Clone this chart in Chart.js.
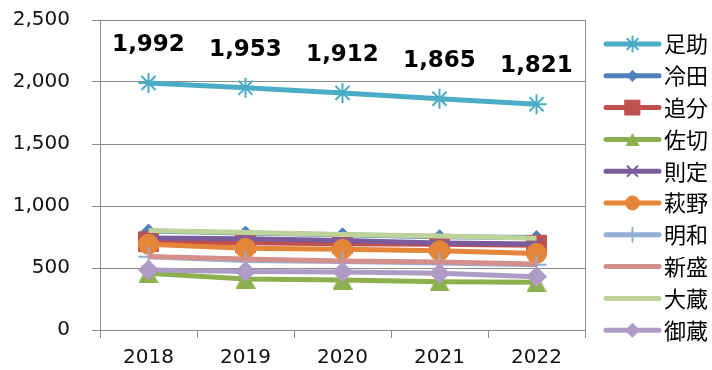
<!DOCTYPE html>
<html><head><meta charset="utf-8">
<script src="https://cdn.jsdelivr.net/npm/chart.js@4.4.1/dist/chart.umd.min.js"></script>
<style>html,body{margin:0;padding:0;background:#fff}</style>
</head><body>
<canvas id="c" width="712" height="370"></canvas>
<script>
// Population by district, 2018–2022
const years = ['2018', '2019', '2020', '2021', '2022'];
const asuke    = [1992, 1953, 1912, 1865, 1821]; // 足助
const hieda    = [798, 782, 768, 752, 745];      // 冷田
const oiwake   = [712, 704, 696, 692, 684];      // 追分
const sagiri   = [457, 411, 403, 390, 385];      // 佐切
const norisada = [742, 735, 722, 702, 693];      // 則定
const hagino   = [691, 659, 651, 640, 617];      // 萩野
const meiwa    = [591, 560, 552, 540, 526];      // 明和
const shinmori = [592, 572, 556, 548, 532];      // 新盛
const ookura   = [802, 786, 770, 758, 739];      // 大蔵
const mikura   = [484, 472, 468, 457, 430];      // 御蔵
const yTicks = [0, 500, 1000, 1500, 2000, 2500];

// upright triangle sprite, centred on its bounding box
function triangleSprite(w, h, color) {
  const c = document.createElement('canvas');
  c.width = w; c.height = h;
  const g = c.getContext('2d');
  g.fillStyle = color;
  g.beginPath();
  g.moveTo(w / 2, 0); g.lineTo(w, h); g.lineTo(0, h); g.closePath();
  g.fill();
  return c;
}

const series = [
  { name: '足助', data: asuke,    color: '#4BACC6', style: 'star',     r: 10, lr: 7.5, bw: 2 },
  { name: '冷田', data: hieda,    color: '#4F81BD', style: 'rectRot',  r: 7,  lr: 5.5, bw: 1 },
  { name: '追分', data: oiwake,   color: '#C0504D', style: 'rect',     r: 14, lr: 10.5, bw: 1 },
  { name: '佐切', data: sagiri,   color: '#8DB04E', style: triangleSprite(20, 19, '#8DB04E'), r: 10, lr: 7,
    legendStyle: triangleSprite(14, 13, '#8DB04E'), bw: 1 },
  { name: '則定', data: norisada, color: '#7A5C9C', style: 'crossRot', r: 8,  lr: 7, bw: 2 },
  { name: '萩野', data: hagino,   color: '#E58538', style: 'circle',   r: 10, lr: 7, bw: 1 },
  { name: '明和', data: meiwa,    color: '#93AFD6', style: 'cross',    r: 10, lr: 7, bw: 2 },
  { name: '新盛', data: shinmori, color: '#D48F8D', style: false,      r: 0,  lr: 0, bw: 1 },
  { name: '大蔵', data: ookura,   color: '#BDD39A', style: false,      r: 0,  lr: 0, bw: 1 },
  { name: '御蔵', data: mikura,   color: '#AE9CC6', style: 'rectRot',  r: 10, lr: 7, bw: 1 }
];

const FONT = '"DejaVu Sans", Verdana, sans-serif';
const CJK = '"Noto Sans CJK JP", "Noto Sans", sans-serif';

function drawMarker(ctx, style, r, color, bw, x, y) {
  if (!style) return;
  if (window.Chart && Chart.helpers && Chart.helpers.drawPoint) {
    ctx.save();
    ctx.fillStyle = color; ctx.strokeStyle = color; ctx.lineWidth = bw;
    Chart.helpers.drawPoint(ctx, { pointStyle: style, radius: r, borderWidth: bw, rotation: 0 }, x, y);
    ctx.restore();
  }
}

// value labels above the 足助 line
const valueLabels = {
  id: 'valueLabels',
  afterDatasetsDraw(chart) {
    const ctx = chart.ctx;
    const meta = chart.getDatasetMeta(0);
    ctx.save();
    ctx.font = 'bold 23px ' + FONT;
    ctx.fillStyle = '#000';
    ctx.textAlign = 'center';
    ctx.textBaseline = 'middle';
    meta.data.forEach((pt, i) => {
      ctx.fillText(asuke[i].toLocaleString('en-US'), pt.x, pt.y - 38);
    });
    ctx.restore();
  }
};

// plot area right edge and the legend on the right
const frameAndLegend = {
  id: 'frameAndLegend',
  beforeDatasetsDraw(chart) {
    const { ctx, chartArea: a } = chart;
    ctx.save();
    ctx.strokeStyle = '#8c8c8c';
    ctx.lineWidth = 1;
    ctx.beginPath();
    ctx.moveTo(Math.round(a.right) + 0.5, a.top);
    ctx.lineTo(Math.round(a.right) + 0.5, a.bottom);
    ctx.stroke();
    ctx.restore();
  },
  afterDraw(chart) {
    const ctx = chart.ctx;
    const x0 = 606, x1 = 659, tx = 664, y0 = 44, dy = 31.8;
    ctx.save();
    series.forEach((s, i) => {
      const y = y0 + i * dy;
      ctx.strokeStyle = s.color;
      ctx.lineWidth = 5;
      ctx.lineCap = 'round';
      ctx.beginPath(); ctx.moveTo(x0, y); ctx.lineTo(x1, y); ctx.stroke();
      drawMarker(ctx, s.legendStyle || s.style, s.lr, s.color, s.bw, (x0 + x1) / 2, y);
      ctx.fillStyle = '#000';
      ctx.font = '22px ' + CJK;
      ctx.textAlign = 'left';
      ctx.textBaseline = 'middle';
      ctx.fillText(s.name, tx, y);
    });
    ctx.restore();
  }
};

new Chart(document.getElementById('c'), {
  type: 'line',
  data: {
    labels: years,
    datasets: series.map((s, i) => ({
      label: s.name,
      data: s.data,
      borderColor: s.color,
      backgroundColor: s.color,
      borderWidth: 5,
      pointStyle: s.style,
      pointRadius: s.r,
      pointBorderWidth: s.bw,
      pointBackgroundColor: s.color,
      pointBorderColor: s.color,
      tension: 0,
      order: -i
    }))
  },
  options: {
    responsive: false,
    devicePixelRatio: 1,
    animation: false,
    layout: { padding: { top: 20, right: 127, bottom: 0, left: 0 } },
    plugins: { legend: { display: false }, tooltip: { enabled: false } },
    scales: {
      x: {
        offset: true,
        grid: { offset: true, drawOnChartArea: false, drawTicks: true, tickLength: 8, color: '#8c8c8c' },
        border: { color: '#8c8c8c', width: 1 },
        ticks: { color: '#111', font: { family: FONT, size: 20 }, padding: 8, maxRotation: 0 },
        afterFit(s) { s.height = 40; }
      },
      y: {
        min: 0, max: 2500,
        afterBuildTicks(s) { s.ticks = yTicks.map(v => ({ value: v })); },
        grid: { color: '#8c8c8c', tickLength: 8, drawTicks: true },
        border: { color: '#8c8c8c', width: 1 },
        ticks: {
          color: '#111', font: { family: FONT, size: 20 }, padding: 22,
          callback: v => Number(v).toLocaleString('en-US')
        },
        afterFit(s) { s.width = 100; s.paddingTop = 0; s.paddingBottom = 0; }
      }
    }
  },
  plugins: [frameAndLegend, valueLabels]
});
</script>
</body></html>
